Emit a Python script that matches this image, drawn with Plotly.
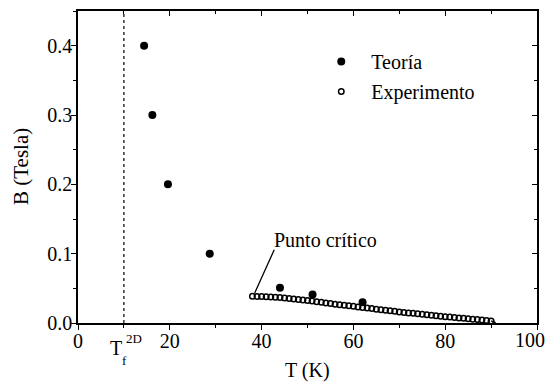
import plotly.graph_objects as go

# Theory points
teoria_T = [14.4, 16.2, 19.6, 28.7, 44.0, 51.1, 62.0]
teoria_B = [0.400, 0.300, 0.200, 0.100, 0.051, 0.041, 0.030]

# Experimental points
exp_T = [38, 39, 40, 41, 42, 43, 44, 45, 46, 47, 48, 49, 50, 51, 52, 53, 54,
         55, 56, 57, 58, 59, 60, 61, 62, 63, 64, 65, 66, 67, 68, 69, 70, 71,
         72, 73, 74, 75, 76, 77, 78, 79, 80, 81, 82, 83, 84, 85, 86, 87, 88,
         89, 90]
exp_B = [0.0386, 0.0384, 0.0381, 0.0378, 0.0375, 0.0370, 0.0366, 0.0360,
         0.0354, 0.0347, 0.0340, 0.0333, 0.0325, 0.0316, 0.0307, 0.0298,
         0.0289, 0.0280, 0.0271, 0.0262, 0.0255, 0.0247, 0.0240, 0.0232,
         0.0224, 0.0216, 0.0208, 0.0200, 0.0192, 0.0184, 0.0176, 0.0168,
         0.0160, 0.0153, 0.0146, 0.0139, 0.0132, 0.0125, 0.0118, 0.0111,
         0.0104, 0.0097, 0.0091, 0.0085, 0.0079, 0.0073, 0.0067, 0.0061,
         0.0055, 0.0049, 0.0043, 0.0037, 0.0030]

# tail of the experimental curve down to the axis
tail_T = [90, 91]
tail_B = [0.0030, 0.0004]

# x tick labels (last one drawn right-aligned so it stays inside the page)
x_tickvals = [0, 20, 40, 60, 80, 100]
x_ticktext = ["0", "20", "40", "60", "80", ""]
x_last_label = "100"

tf_T = 10  # T_f^2D
critical_T, critical_B = 38.5, 0.0433

FONT = "Liberation Serif, Times New Roman, serif"
FS = 20

fig = go.Figure()
fig.add_trace(go.Scatter(x=tail_T, y=tail_B, mode="lines",
                         line=dict(color="black", width=1.3),
                         showlegend=False, hoverinfo="skip"))
fig.add_trace(go.Scatter(x=teoria_T, y=teoria_B, mode="markers",
                         name="\u00a0\u00a0Teoría", legendgroup="a",
                         marker=dict(symbol="circle", size=8, color="black")))
fig.add_trace(go.Scatter(x=exp_T, y=exp_B, mode="markers",
                         name="\u00a0\u00a0Experimento", legendgroup="b",
                         marker=dict(symbol="circle-open", size=5.5, color="black",
                                     line=dict(width=1.5, color="black"))))

axis_common = dict(showgrid=False, zeroline=False, showline=True,
                   linecolor="black", linewidth=1.5, ticks="outside",
                   tickcolor="black", tickwidth=1.3, ticklen=5,
                   automargin=False,
                   tickfont=dict(family=FONT, size=FS, color="black"))

fig.update_xaxes(range=[0, 100], tickmode="array", tickvals=x_tickvals,
                 ticktext=x_ticktext, ticklabelstandoff=-6,
                 minor=dict(dtick=10, tick0=0, ticks="outside", ticklen=3,
                            tickcolor="black", tickwidth=1.2),
                 **axis_common)
fig.update_yaxes(range=[0, 0.45], dtick=0.1, tick0=0, tickformat=".1f",
                 ticklabelstandoff=-5,
                 minor=dict(dtick=0.05, ticks="outside", ticklen=3,
                            tickcolor="black", tickwidth=1.2),
                 **axis_common)

# mirrored axes with inward ticks
fig.update_layout(
    xaxis2=dict(overlaying="x", side="top", range=[0, 100], dtick=20,
                showgrid=False, zeroline=False, showline=True, linecolor="black",
                linewidth=1.5, ticks="inside", ticklen=5, tickcolor="black",
                showticklabels=False, automargin=False,
                minor=dict(dtick=10, ticks="inside", ticklen=3, tickcolor="black")),
    yaxis2=dict(overlaying="y", side="right", range=[0, 0.45], dtick=0.1,
                showgrid=False, zeroline=False, showline=True, linecolor="black",
                linewidth=1.5, ticks="inside", ticklen=5, tickcolor="black",
                showticklabels=False, automargin=False,
                minor=dict(dtick=0.05, ticks="inside", ticklen=3, tickcolor="black")),
)
fig.add_trace(go.Scatter(x=[None], y=[None], xaxis="x2", yaxis="y2",
                         showlegend=False, hoverinfo="skip"))

fig.add_shape(type="line", x0=tf_T, x1=tf_T, y0=0, y1=1, xref="x", yref="paper",
              line=dict(color="black", width=1.2, dash="dot"))

ann = [
    dict(text=x_last_label, xref="paper", yref="paper", x=1, y=0,
         xshift=10, yshift=-17, showarrow=False, xanchor="right",
         yanchor="middle", font=dict(family=FONT, size=FS, color="black")),
    dict(text="B (Tesla)", xref="paper", yref="paper", x=0, y=0.5, xshift=-57,
         textangle=-90, showarrow=False, xanchor="center", yanchor="middle",
         font=dict(family=FONT, size=21, color="black")),
    dict(text="T (K)", xref="paper", yref="paper", x=0.5, y=0, yshift=-47,
         showarrow=False, xanchor="center", yanchor="middle",
         font=dict(family=FONT, size=20, color="black")),
    dict(text="T", xref="x", yref="paper", x=tf_T, y=0, xshift=-8, yshift=-25,
         showarrow=False, xanchor="center", yanchor="middle",
         font=dict(family=FONT, size=20, color="black")),
    dict(text="2D", xref="x", yref="paper", x=tf_T, y=0, xshift=10, yshift=-15,
         showarrow=False, xanchor="center", yanchor="middle",
         font=dict(family=FONT, size=13, color="black")),
    dict(text="f", xref="x", yref="paper", x=tf_T, y=0, xshift=1, yshift=-37,
         showarrow=False, xanchor="center", yanchor="middle",
         font=dict(family=FONT, size=13, color="black")),
    dict(text="Punto crítico", xref="x", yref="y", x=53.9, y=0.119,
         showarrow=False, xanchor="center", yanchor="middle",
         font=dict(family=FONT, size=FS, color="black")),
    dict(text="", xref="x", yref="y", x=critical_T, y=critical_B,
         axref="x", ayref="y", ax=42.9, ay=0.1078, showarrow=True,
         arrowhead=0, arrowwidth=1.3, arrowcolor="black", standoff=0,
         startstandoff=0),
]

fig.update_layout(
    width=548, height=382,
    margin=dict(l=78, r=11, t=11, b=59, autoexpand=False),
    paper_bgcolor="white", plot_bgcolor="white",
    annotations=ann,
    showlegend=True,
    legend=dict(x=0.53, y=0.79, xanchor="left", yanchor="middle",
                bgcolor="rgba(0,0,0,0)", tracegroupgap=1,
                font=dict(family=FONT, size=FS, color="black")),
)

fig.write_html("out.html")
